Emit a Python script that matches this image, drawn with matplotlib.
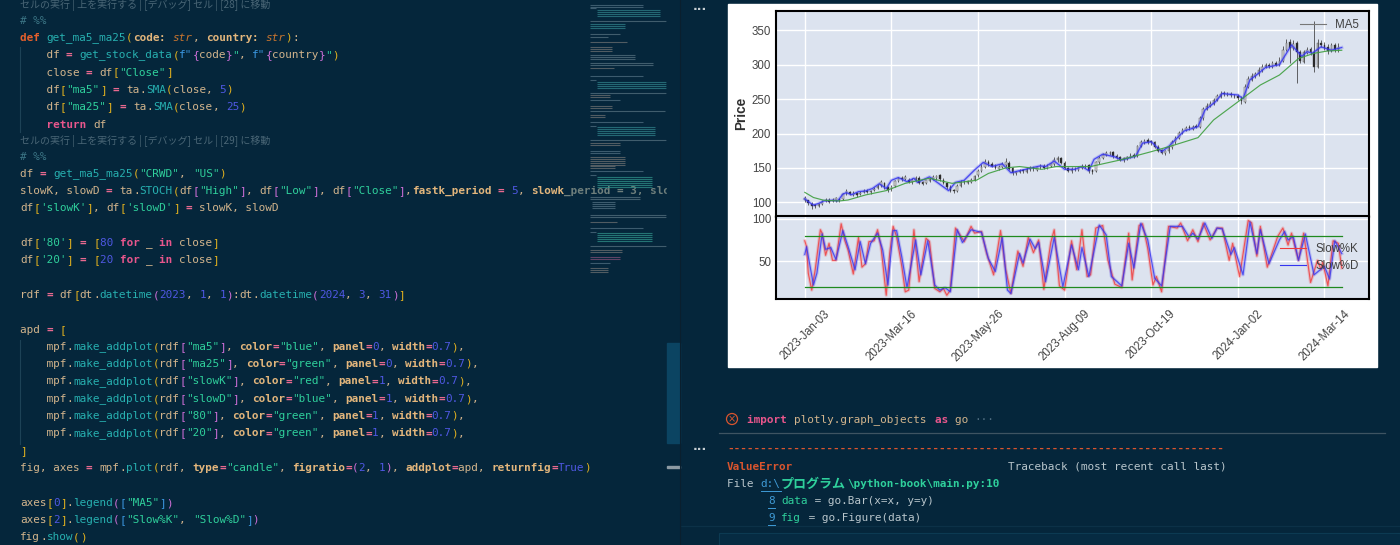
import numpy as np
import matplotlib
matplotlib.use("Agg")
from matplotlib import pyplot as plt
from matplotlib import patheffects as pe
from matplotlib.lines import Line2D
from matplotlib.patches import Rectangle, Circle

# ---- chart values ----
tick_bars = [0, 50, 100, 150, 200, 250, 300]
tick_labels = ['2023-Jan-03', '2023-Mar-16', '2023-May-26', '2023-Aug-09',
               '2023-Oct-19', '2024-Jan-02', '2024-Mar-14']

candle_bars = np.arange(0, 310, 2)
candle_close = [
    107, 99, 95, 94, 97, 101, 104, 101, 104, 106,
    103, 112, 116, 112, 114, 110, 114, 117, 115, 117,
    120, 124, 129, 122, 118, 123, 131, 135, 134, 137,
    130, 133, 136, 128, 127, 132, 134, 137, 138, 134,
    128, 122, 117, 116, 124, 130, 129, 131, 133, 138,
    146, 152, 159, 156, 153, 150, 152, 155, 158, 149,
    142, 144, 146, 145, 149, 150, 148, 151, 153, 150,
    153, 155, 162, 164, 157, 150, 146, 149, 148, 151,
    152, 153, 146, 144, 158, 165, 169, 171, 172, 167,
    165, 162, 164, 166, 168, 167, 182, 187, 189, 188,
    187, 181, 175, 172, 174, 181, 187, 194, 201, 205,
    208, 208, 210, 210, 222, 236, 240, 243, 249, 254,
    258, 257, 257, 256, 255, 251, 247, 268, 279, 283,
    286, 292, 297, 299, 298, 302, 300, 306, 322, 332,
    325, 330, 318, 305, 318, 322, 318, 296, 332, 328,
    325, 320, 328, 323, 326]
candle_open = [
    104, 103, 98, 96, 95, 98, 102, 104, 102, 103,
    105, 105, 113, 115, 111, 113, 112, 115, 117, 115,
    118, 121, 125, 128, 122, 119, 124, 131, 136, 134,
    133, 130, 133, 136, 129, 128, 131, 134, 136, 139,
    133, 128, 123, 118, 117, 124, 130, 128, 130, 133,
    139, 146, 152, 159, 155, 153, 149, 152, 154, 157,
    150, 142, 144, 147, 144, 148, 151, 147, 151, 153,
    150, 153, 155, 161, 164, 157, 150, 145, 149, 147,
    150, 152, 154, 147, 146, 158, 165, 169, 171, 173,
    168, 166, 161, 163, 166, 169, 168, 182, 186, 190,
    189, 187, 181, 176, 171, 174, 180, 187, 194, 201,
    205, 209, 207, 211, 210, 222, 236, 240, 243, 249,
    253, 259, 256, 258, 255, 255, 252, 246, 268, 278,
    283, 286, 292, 297, 300, 297, 303, 300, 306, 322,
    333, 324, 331, 319, 304, 317, 323, 318, 297, 331,
    329, 326, 320, 328, 322]
candle_high = [
    109, 104, 100, 98, 99, 103, 107, 106, 106, 108,
    106, 114, 119, 117, 116, 115, 116, 119, 119, 118,
    122, 126, 133, 130, 124, 125, 133, 137, 138, 139,
    135, 135, 138, 138, 131, 133, 136, 139, 140, 141,
    135, 130, 125, 120, 126, 132, 132, 133, 136, 140,
    149, 155, 163, 161, 158, 155, 154, 158, 164, 160,
    152, 146, 148, 149, 151, 153, 152, 153, 156, 156,
    155, 157, 166, 168, 166, 160, 152, 151, 151, 153,
    155, 155, 156, 149, 160, 168, 172, 174, 175, 175,
    170, 168, 166, 168, 171, 172, 184, 190, 192, 193,
    191, 189, 183, 178, 176, 183, 190, 197, 204, 208,
    211, 212, 212, 214, 225, 239, 244, 247, 252, 257,
    262, 262, 260, 260, 258, 258, 254, 272, 284, 288,
    290, 296, 301, 303, 303, 306, 305, 311, 327, 337,
    338, 336, 335, 322, 322, 326, 326, 364, 338, 336,
    333, 330, 332, 332, 331]
candle_low = [
    101, 96, 91, 92, 93, 96, 100, 99, 100, 101,
    101, 103, 111, 110, 109, 108, 110, 113, 113, 112,
    116, 119, 123, 120, 115, 117, 122, 129, 131, 132,
    128, 127, 131, 126, 125, 126, 129, 132, 133, 131,
    126, 120, 115, 114, 115, 122, 127, 126, 128, 131,
    137, 144, 150, 153, 151, 148, 147, 150, 152, 147,
    140, 140, 142, 143, 142, 146, 146, 145, 149, 148,
    148, 151, 153, 158, 155, 148, 144, 143, 146, 145,
    148, 150, 143, 141, 144, 156, 163, 167, 169, 165,
    163, 160, 159, 161, 164, 165, 166, 180, 185, 185,
    184, 179, 173, 170, 169, 172, 178, 185, 192, 199,
    203, 205, 205, 208, 208, 220, 234, 238, 241, 247,
    251, 254, 254, 253, 252, 248, 243, 244, 266, 276,
    281, 284, 290, 295, 295, 295, 298, 298, 304, 320,
    302, 322, 273, 303, 302, 315, 314, 290, 295, 326,
    322, 316, 318, 319, 318]

ma5_bars = [0, 2, 5, 8, 11, 16, 19, 22, 24, 27, 31, 35, 39, 43, 47, 50, 54, 59, 63, 65,
            72, 77, 83, 87, 92, 98, 103, 108, 114, 119, 124, 129, 136, 139, 144, 150, 156, 160, 164, 167,
            172, 179, 183, 191, 195, 200, 204, 206, 210, 219, 227, 231, 237, 241, 250, 253, 257, 262, 266, 274,
            281, 287, 290, 293, 298, 304, 310]
ma5 = [105, 101, 96, 98.5, 102, 103, 102, 112, 114, 111, 115.5, 116.5, 120, 127, 120, 132, 136, 130, 135, 129,
       137, 128, 117, 129, 132, 147, 158, 152, 156, 143, 146, 149, 153, 152, 160, 148, 148, 152, 146, 162.5,
       170, 166, 161.5, 167, 186, 188, 178.5, 173.6, 181, 203.7, 210, 234, 246, 258, 256, 250.7, 278, 287.5, 296, 300,
       328.7, 312, 319, 316.6, 326, 321, 325]

ma25_bars = [0, 5, 11, 20, 25, 35, 47, 58, 72, 85, 99, 106, 116, 124, 137, 145, 150, 165, 182, 200,
             213, 227, 236, 252, 263, 274, 285, 294, 302, 310]
ma25 = [114.5, 107, 103, 102, 103.4, 110.7, 117, 127.6, 135, 127.6, 132, 142, 150, 152, 148, 152, 152, 152, 161.5, 173.6,
        183, 194, 219.7, 249.7, 270.5, 285, 309, 316.6, 320, 321]

slowk_bars = [0, 1, 2, 4, 6, 9, 10, 12, 14, 16, 18, 21, 23, 25, 28, 31, 33, 35, 37, 40,
              42, 44, 47, 49, 51, 53, 56, 58, 60, 63, 66, 70, 72, 75, 78, 80, 82, 84, 87, 89,
              92, 96, 98, 102, 105, 109, 113, 116, 119, 123, 126, 129, 132, 135, 138, 142, 144, 147, 150, 154,
              157, 160, 163, 165, 168, 172, 175, 179, 183, 187, 189, 193, 195, 198, 201, 203, 206, 210, 215, 217,
              221, 224, 227, 230, 234, 238, 241, 245, 247, 251, 256, 258, 261, 263, 267, 273, 276, 279, 281, 285,
              288, 292, 296, 298, 299, 302, 305, 308, 310]
slowk = [74, 67, 36, 16, 40, 87, 83, 57, 71, 51, 51, 94, 75, 63, 35, 78, 43, 47, 73, 74,
         87, 67, 10, 59, 91, 79, 44, 14, 16, 87, 26, 77, 73, 18, 14, 18, 10, 16, 89, 83,
         73, 91, 83, 85, 59, 34, 86, 40, 12, 62, 44, 78, 60, 75, 17, 72, 87, 21, 16, 74,
         40, 87, 32, 34, 89, 92, 51, 23, 19, 83, 28, 92, 94, 65, 22, 32, 14, 91, 89, 95,
         74, 87, 73, 95, 75, 89, 89, 51, 71, 32, 98, 95, 56, 91, 43, 79, 89, 69, 83, 51,
         83, 25, 51, 40, 49, 21, 74, 71, 42]

slowd_bars = [0, 1, 5, 7, 10, 12, 15, 18, 22, 25, 29, 32, 35, 38, 42, 45, 48, 51, 53, 56,
              59, 64, 67, 71, 75, 78, 81, 84, 88, 91, 96, 102, 106, 110, 114, 117, 119, 124, 126, 130,
              133, 135, 139, 144, 149, 154, 158, 160, 164, 170, 174, 177, 183, 187, 190, 194, 198, 202, 206, 211,
              218, 222, 224, 227, 231, 235, 238, 241, 246, 248, 253, 257, 261, 263, 268, 274, 277, 279, 282, 285,
              289, 294, 300, 303, 306, 310]
slowd = [58, 67, 22, 36, 82, 64, 66, 52, 86, 67, 40, 73, 47, 71, 83, 63, 22, 86, 86, 55,
         19, 75, 34, 74, 22, 16, 19, 14, 87, 72, 87, 84, 53, 38, 78, 16, 12, 59, 48, 76,
         65, 72, 26, 78, 20, 69, 40, 66, 32, 92.5, 81, 32, 21, 71, 42, 94.5, 75, 30, 21, 91,
         91, 78, 83, 76, 95, 77, 89, 88, 58, 66, 34, 96, 59, 87, 47, 75, 85, 75, 79, 51,
         82, 34, 44, 29, 74, 59]

line_80 = [80, 80]
line_20 = [20, 20]
line_bars = [0, 310]

# ---- screenshot text ----
LENS_28 = 'セルの実行 | 上を実行する | [デバッグ] セル | [28] に移動'
LENS_29 = 'セルの実行 | 上を実行する | [デバッグ] セル | [29] に移動'


def addplot_line(y, name, color, panel):
    return (y, [('    mpf', 'p'), ('.', 'p'), ('make_addplot', 'f'), ('(', 'g'), ('rdf', 'p'), ('[', 'v'),
                (f'"{name}"', 's'), (']', 'v'), (', ', 'p'), ('color', 'a'), ('=', 'o'), (f'"{color}"', 's'),
                (', ', 'p'), ('panel', 'a'), ('=', 'o'), (panel, 'n'), (', ', 'p'), ('width', 'a'), ('=', 'o'),
                ('0.7', 'n'), (')', 'g'), (',', 'p')])


CODE_LINES = [
    (21, [('# %%', 'c')]),
    (38, [('def ', 'd'), ('get_ma5_ma25', 'f'), ('(', 'g'), ('code', 'a'), (': ', 'a'), ('str', 'i'), (', ', 'p'),
          ('country', 'a'), (': ', 'a'), ('str', 'i'), (')', 'g'), (':', 'p')]),
    (55, [('    df ', 'p'), ('= ', 'o'), ('get_stock_data', 'f'), ('(', 'g'), ('f"', 'b'), ('{', 'v'), ('code', 'p'),
          ('}', 'v'), ('"', 's'), (', ', 'p'), ('f"', 'b'), ('{', 'v'), ('country', 'p'), ('}', 'v'), ('"', 's'),
          (')', 'g')]),
    (72.5, [('    close ', 'p'), ('= ', 'o'), ('df', 'p'), ('[', 'g'), ('"Close"', 's'), (']', 'g')]),
    (90, [('    df', 'p'), ('[', 'g'), ('"ma5"', 's'), (']', 'g'), (' ', 'p'), ('= ', 'o'), ('ta', 'p'), ('.', 'p'),
          ('SMA', 'f'), ('(', 'g'), ('close', 'p'), (', ', 'p'), ('5', 'n'), (')', 'g')]),
    (107, [('    df', 'p'), ('[', 'g'), ('"ma25"', 's'), (']', 'g'), (' ', 'p'), ('= ', 'o'), ('ta', 'p'), ('.', 'p'),
           ('SMA', 'f'), ('(', 'g'), ('close', 'p'), (', ', 'p'), ('25', 'n'), (')', 'g')]),
    (124.5, [('    return ', 'k'), ('df', 'p')]),
    (157, [('# %%', 'c')]),
    (174, [('df ', 'p'), ('= ', 'o'), ('get_ma5_ma25', 'f'), ('(', 'g'), ('"CRWD"', 's'), (', ', 'p'), ('"US"', 's'),
           (')', 'g')]),
    (191, [('slowK, slowD ', 'p'), ('= ', 'o'), ('ta', 'p'), ('.', 'p'), ('STOCH', 'f'), ('(', 'g'), ('df', 'p'),
           ('[', 'v'), ('"High"', 's'), (']', 'v'), (', ', 'p'), ('df', 'p'), ('[', 'v'), ('"Low"', 's'), (']', 'v'),
           (', ', 'p'), ('df', 'p'), ('[', 'v'), ('"Close"', 's'), (']', 'v'), (',', 'p'), ('fastk_period', 'a'),
           (' ', 'p'), ('= ', 'o'), ('5', 'n'), (', ', 'p'), ('slowk', 'a'), ('_period = 3, slo', 'x')]),
    (208, [('df', 'p'), ('[', 'g'), ("'slowK'", 's'), (']', 'g'), (', ', 'p'), ('df', 'p'), ('[', 'g'),
           ("'slowD'", 's'), (']', 'g'), (' ', 'p'), ('= ', 'o'), ('slowK, slowD', 'p')]),
    (243, [('df', 'p'), ('[', 'g'), ("'80'", 's'), (']', 'g'), (' ', 'p'), ('= ', 'o'), ('[', 'g'), ('80 ', 'n'),
           ('for ', 'k'), ('_ ', 'p'), ('in ', 'k'), ('close', 'p'), (']', 'g')]),
    (260, [('df', 'p'), ('[', 'g'), ("'20'", 's'), (']', 'g'), (' ', 'p'), ('= ', 'o'), ('[', 'g'), ('20 ', 'n'),
           ('for ', 'k'), ('_ ', 'p'), ('in ', 'k'), ('close', 'p'), (']', 'g')]),
    (295, [('rdf ', 'p'), ('= ', 'o'), ('df', 'p'), ('[', 'g'), ('dt', 'p'), ('.', 'p'), ('datetime', 'f'),
           ('(', 'v'), ('2023', 'n'), (', ', 'p'), ('1', 'n'), (', ', 'p'), ('1', 'n'), (')', 'v'), (':', 'p'),
           ('dt', 'p'), ('.', 'p'), ('datetime', 'f'), ('(', 'v'), ('2024', 'n'), (', ', 'p'), ('3', 'n'),
           (', ', 'p'), ('31', 'n'), (')', 'v'), (']', 'g')]),
    (330, [('apd ', 'p'), ('= ', 'o'), ('[', 'g')]),
    addplot_line(347, 'ma5', 'blue', '0'),
    addplot_line(364, 'ma25', 'green', '0'),
    addplot_line(381.5, 'slowK', 'red', '1'),
    addplot_line(399, 'slowD', 'blue', '1'),
    addplot_line(416, '80', 'green', '1'),
    addplot_line(433.5, '20', 'green', '1'),
    (451, [(']', 'g')]),
    (468, [('fig, axes ', 'p'), ('= ', 'o'), ('mpf', 'p'), ('.', 'p'), ('plot', 'f'), ('(', 'g'), ('rdf, ', 'p'),
           ('type', 'a'), ('=', 'o'), ('"candle"', 's'), (', ', 'p'), ('figratio', 'a'), ('=', 'o'), ('(', 'v'),
           ('2', 'n'), (', ', 'p'), ('1', 'n'), (')', 'v'), (', ', 'p'), ('addplot', 'a'), ('=', 'o'), ('apd, ', 'p'),
           ('returnfig', 'a'), ('=', 'o'), ('True', 'n'), (')', 'g')]),
    (503, [('axes', 'p'), ('[', 'g'), ('0', 'n'), (']', 'g'), ('.', 'p'), ('legend', 'f'), ('(', 'v'), ('[', 'b'),
           ('"MA5"', 's'), (']', 'b'), (')', 'v')]),
    (520, [('axes', 'p'), ('[', 'g'), ('2', 'n'), (']', 'g'), ('.', 'p'), ('legend', 'f'), ('(', 'v'), ('[', 'b'),
           ('"Slow%K"', 's'), (', ', 'p'), ('"Slow%D"', 's'), (']', 'b'), (')', 'v')]),
    (537, [('fig', 'p'), ('.', 'p'), ('show', 'f'), ('(', 'g'), (')', 'g')]),
]

OUTPUT_LINES = [
    (420, 747, [('import ', 'k'), ('plotly.graph_objects ', 'p'), ('as ', 'k'), ('go ', 'p'), ('···', 'l')]),
    (449, 727, [('-' * 75, 'e')]),
    (466.5, 727, [('ValueError', 'e'), (' ' * 32, 'w'), ('Traceback (most recent call last)', 'w')]),
    (484, 727, [('File ', 'w'), ('d:\\', 'u'), ('プログラム', 'j'), ('\\python-book\\main.py:10', 'j')]),
    (501, 768, [('8', 'u'), (' ', 'w'), ('data', 's'), (' = go.Bar(x=x, y=y)', 'w')]),
    (518, 768, [('9', 'u'), (' ', 'w'), ('fig', 's'), (' = go.Figure(data)', 'w')]),
]

# y range, x range, colour of the minimap blocks
MINIMAP = [
    (5, 7, 590, 643, '#4f6d80'), (8, 8, 590, 596, '#4f6d80'), (10, 17, 597, 660, '#2f7f88'),
    (21, 22, 590, 666, '#55707f'), (24, 28, 590, 625, '#2f7f88'), (34, 34, 590, 620, '#55707f'),
    (37, 37, 590, 608, '#55707f'), (42, 43, 590, 627, '#6b6f70'), (47, 52, 590, 612, '#6b6f70'),
    (55, 59, 590, 635, '#55707f'), (63, 66, 590, 653, '#55707f'), (68, 69, 590, 614, '#6b6f70'),
    (76, 76, 590, 643, '#4f6d80'), (80, 80, 590, 596, '#4f6d80'), (82, 88, 597, 666, '#2f7f88'),
    (93, 93, 590, 666, '#55707f'), (95, 97, 590, 610, '#6b6f70'), (100, 100, 590, 620, '#4f6d80'),
    (106, 108, 590, 612, '#6b6f70'), (111, 111, 590, 665, '#55707f'), (115, 118, 590, 605, '#6b6f70'),
    (122, 122, 590, 643, '#4f6d80'), (126, 126, 590, 596, '#4f6d80'), (127, 135, 597, 655, '#2f7f88'),
    (140, 140, 590, 666, '#55707f'), (143, 146, 590, 620, '#6b6f70'), (151, 153, 590, 620, '#4f6d80'),
    (157, 165, 590, 625, '#6b6f70'), (166, 168, 590, 615, '#6b6f70'), (171, 171, 590, 643, '#4f6d80'),
    (175, 175, 590, 596, '#4f6d80'), (177, 187, 597, 652, '#2f8f88'), (197, 200, 590, 640, '#55707f'),
    (202, 208, 592, 615, '#4f6d80'), (215, 218, 590, 666, '#55707f'), (222, 223, 590, 617, '#6b6f70'),
    (228, 228, 590, 643, '#4f6d80'), (232, 232, 590, 596, '#4f6d80'), (233, 242, 597, 652, '#2f8f88'),
    (246, 246, 590, 666, '#55707f'), (250, 253, 590, 622, '#6b6f70'), (257, 259, 590, 620, '#7d4f75'),
    (263, 263, 590, 610, '#4f6d80'), (268, 273, 590, 608, '#6b6f70'),
]

BG = '#05263b'
# colour, weight, style of each token kind
STYLES = {
    'p': ('#d2b48c', 'normal', 'normal'), 'f': ('#27b0b0', 'normal', 'normal'),
    'o': ('#e8698f', 'bold', 'normal'), 's': ('#2fd09c', 'normal', 'normal'),
    'g': ('#e3b21f', 'normal', 'normal'), 'v': ('#cf6fd8', 'normal', 'normal'),
    'b': ('#3b97e0', 'normal', 'normal'), 'n': ('#4f58e3', 'normal', 'normal'),
    'k': ('#e8568c', 'bold', 'normal'), 'd': ('#e8602c', 'bold', 'normal'),
    'a': ('#e3b67c', 'bold', 'normal'), 'c': ('#3c7686', 'normal', 'normal'),
    'i': ('#c9752f', 'normal', 'italic'), 'x': ('#6f7f7c', 'bold', 'normal'),
    'e': ('#d9552e', 'bold', 'normal'), 'w': ('#b9c6cc', 'normal', 'normal'),
    'u': ('#3f9bd6', 'normal', 'normal'), 'j': ('#2fd09c', 'bold', 'normal'),
    'l': ('#4f6d80', 'normal', 'normal'),
}


def draw_tokens(ax, x0, y, tokens, char_w):
    col = 0
    for text, kind in tokens:
        color, weight, style = STYLES[kind]
        wide = sum(1 for c in text if ord(c) > 0x2e80)
        ax.text(x0 + col * char_w, y, text, color=color, fontweight=weight, fontstyle=style,
                fontsize=9.4 if wide else 7.95, family=['DejaVu Sans Mono', 'Noto Sans CJK JP'],
                va='center', ha='left', zorder=3)
        if kind == 'u':
            ax.plot([x0 + col * char_w, x0 + (col + len(text)) * char_w], [y + 7, y + 7], color=color, lw=0.7, zorder=3)
        col += len(text) + wide


fig = plt.figure(figsize=(14, 5.45), dpi=100, facecolor=BG)

# whole window in pixel coordinates
bg = fig.add_axes([0, 0, 1, 1])
bg.set_xlim(0, 1400)
bg.set_ylim(545, 0)
bg.axis('off')

for y, tokens in CODE_LINES:
    draw_tokens(bg, 20, y, tokens, 6.64)
for y, text in [(5, LENS_28), (141, LENS_29)]:
    bg.text(20, y, text, color='#4a6676', fontsize=7.2, family=['Noto Sans CJK JP', 'DejaVu Sans'], va='center')

bg.plot([20, 20], [47, 132], color='#1d4256', lw=0.8)
bg.plot([20, 20], [340, 444], color='#1d4256', lw=0.8)

# minimap, drawn over the end of the long code line
for y0, y1, x0, x1, color in MINIMAP:
    for y in np.arange(y0, y1 + 1, 2):
        bg.plot([x0, x1], [y, y], color=color, lw=0.8, alpha=0.75, solid_capstyle='butt', zorder=4)
bg.add_patch(Rectangle((667, 0), 13, 545, color=BG, zorder=5))
bg.add_patch(Rectangle((666.5, 343), 13.5, 100, color='#0b4462', zorder=6))
bg.add_patch(Rectangle((667, 466), 13, 1.5, color='#8d9aa3', zorder=6))
bg.plot([679.5, 679.5], [0, 545], color='#0a1f2e', lw=0.8, zorder=6)

# right hand output pane
bg.add_patch(Rectangle((727.5, 3.5), 649, 363, color='white', zorder=1))
bg.text(700, 10, '···', color='#c5cdd2', fontsize=9, ha='center', va='center', fontweight='bold')
bg.text(700, 449, '···', color='#c5cdd2', fontsize=9, ha='center', va='center', fontweight='bold')
bg.add_patch(Circle((732, 419), 5.5, fill=False, ec='#d9552e', lw=0.9))
bg.text(732, 419, '×', color='#d9552e', fontsize=7, ha='center', va='center')
bg.plot([719, 1385], [432.5, 432.5], color='#3e5462', lw=0.9)
bg.plot([680, 1400], [526, 526], color='#0c3147', lw=0.9)
bg.add_patch(Rectangle((719, 533), 681, 12, fc='#062b42', ec='#0c3a52', lw=0.8))
for y, x, tokens in OUTPUT_LINES:
    draw_tokens(bg, x, y, tokens, 6.7)

plt.rcParams['font.family'] = ['Liberation Sans', 'DejaVu Sans']


def panel(left, top, right, bottom):
    ax = fig.add_axes([left / 1400, 1 - bottom / 545, (right - left) / 1400, (bottom - top) / 545])
    ax.set_facecolor('#DCE3EF')
    ax.grid(True, color='white', lw=1.0)
    ax.set_axisbelow(True)
    for s in ax.spines.values():
        s.set_linewidth(1.5)
        s.set_color('black')
    ax.set_xlim(-16.8, 325.9)
    ax.set_xticks(tick_bars)
    ax.tick_params(length=0, labelsize=8.3, labelcolor='#444444', pad=3.2)
    return ax


def soft(color):
    # the screenshot is a little blurred, lines carry a pale halo
    return [pe.Stroke(linewidth=2.4, foreground=color, alpha=0.22), pe.Normal()]


price_ax = panel(775.7, 10.7, 1369.3, 216.5)
stoch_ax = panel(775.7, 216.5, 1369.3, 299.3)

# candles: white body going up, black going down
body_bottom = np.minimum(candle_open, candle_close)
body_height = np.abs(np.array(candle_close) - np.array(candle_open))
body_colors = ['#d8d8d8' if c >= o else '#222222' for o, c in zip(candle_open, candle_close)]
price_ax.vlines(candle_bars, candle_low, candle_high, color='#333333', lw=0.7, alpha=0.75, zorder=2)
price_ax.bar(candle_bars, body_height, bottom=body_bottom, width=0.9, color=body_colors, edgecolor='#444444',
             linewidth=0.3, zorder=2.5)
price_ax.plot(ma5_bars, ma5, color='#3535f0', lw=0.9, alpha=0.85, zorder=3, path_effects=soft('#3535f0'))
price_ax.plot(ma25_bars, ma25, color='#3f9f3f', lw=0.85, alpha=0.9, zorder=3)
price_ax.set_ylim(79.4, 378.5)
price_ax.set_yticks([100, 150, 200, 250, 300, 350])
price_ax.tick_params(labelbottom=False)
price_ax.set_ylabel('Price', fontsize=9.8, fontweight='bold', color='#303030', labelpad=3)

stoch_ax.plot(slowk_bars, slowk, color='#f03a3a', lw=0.85, alpha=0.8, zorder=3, path_effects=soft('#f03a3a'))
stoch_ax.plot(slowd_bars, slowd, color='#3535f0', lw=0.85, alpha=0.8, zorder=3, path_effects=soft('#3535f0'))
stoch_ax.plot(line_bars, line_80, color='#1f8a1f', lw=0.9, zorder=3)
stoch_ax.plot(line_bars, line_20, color='#1f8a1f', lw=0.9, zorder=3)
stoch_ax.set_ylim(5.2, 102.6)
stoch_ax.set_yticks([50, 100])
stoch_ax.set_yticklabels(['50', '100'])
stoch_ax.set_xticklabels(tick_labels, rotation=45, ha='center')
stoch_ax.tick_params(axis='x', pad=6)

price_ax.legend(handles=[Line2D([], [], color='#777777', lw=0.8)], labels=['MA5'], frameon=False, fontsize=8.3,
                labelcolor='#404040', loc='upper left', bbox_to_anchor=(1300, 19.5), bbox_transform=bg.transData,
                borderaxespad=0, borderpad=0, handlelength=2.25)
stoch_ax.legend(handles=[Line2D([], [], color='#f03a3a', lw=0.8), Line2D([], [], color='#3535f0', lw=0.8)],
                labels=['Slow%K', 'Slow%D'], frameon=False, fontsize=8.3, labelcolor='#404040', loc='upper left',
                bbox_to_anchor=(1280, 243), bbox_transform=bg.transData, borderaxespad=0, borderpad=0,
                handlelength=2.25, labelspacing=0.45)

fig.savefig('out.png', dpi=100, facecolor=BG)
